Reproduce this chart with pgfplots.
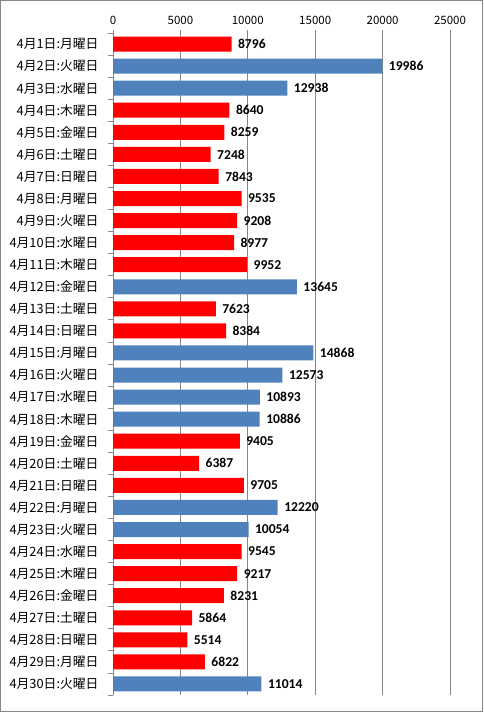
\documentclass[border=0pt]{standalone}
\usepackage{pgfplots}
\pgfplotsset{compat=1.18}
\usepackage{fontspec}
\setmainfont{Noto Sans CJK JP}
\newfontfamily\carl{Carlito}
\definecolor{barred}{RGB}{255,0,0}
\definecolor{barblue}{RGB}{79,129,189}
\definecolor{gridgray}{RGB}{134,134,134}
\begin{document}
\begin{tikzpicture}
\useasboundingbox (0,0) rectangle (483pt,-712pt);
\draw[gridgray, line width=0.8pt] (0.5pt,-0.5pt) rectangle (482.5pt,-711.5pt);
\begin{axis}[
  at={(113pt,-695pt)}, anchor=south west,
  scale only axis, width=337pt, height=662pt,
  xmin=0, xmax=25000, ymin=0.5, ymax=30.5, y dir=reverse,
  xbar, bar width=15pt, bar shift=0pt,
  axis line style={draw=none},
  xtick={0,5000,10000,15000,20000,25000},
  xtick pos=right, xticklabel pos=right,
  scaled x ticks=false,
  /pgf/number format/1000 sep={},
  /pgf/number format/assume math mode=true,
  xmajorgrids, grid style={gridgray, line width=0.8pt},
  tick align=outside, major tick length=0pt,
  xticklabel style={font=\fontsize{11.5}{12}\selectfont, yshift=5pt},
  ytick={1,...,30}, ytick pos=left,
  yticklabel style={font=\fontsize{12.8}{13}\selectfont, xshift=-11pt},
  yticklabels={4月1日:月曜日,4月2日:火曜日,4月3日:水曜日,4月4日:木曜日,4月5日:金曜日,4月6日:土曜日,4月7日:日曜日,4月8日:月曜日,4月9日:火曜日,4月10日:水曜日,4月11日:木曜日,4月12日:金曜日,4月13日:土曜日,4月14日:日曜日,4月15日:月曜日,4月16日:火曜日,4月17日:水曜日,4月18日:木曜日,4月19日:金曜日,4月20日:土曜日,4月21日:日曜日,4月22日:月曜日,4月23日:火曜日,4月24日:水曜日,4月25日:木曜日,4月26日:金曜日,4月27日:土曜日,4月28日:日曜日,4月29日:月曜日,4月30日:火曜日},
  point meta=x,
  nodes near coords,
  every node near coord/.append style={font=\carl\bfseries\fontsize{13.6}{14}\selectfont, anchor=west, xshift=3pt, black},
  clip=false,
]
\draw[gridgray, line width=0.8pt] (axis cs:0,0.5) -- (axis cs:0,30.5);
\pgfplotsinvokeforeach{0.5,1.5,2.5,3.5,4.5,5.5,6.5,7.5,8.5,9.5,10.5,11.5,12.5,13.5,14.5,15.5,16.5,17.5,18.5,19.5,20.5,21.5,22.5,23.5,24.5,25.5,26.5,27.5,28.5,29.5,30.5}{\draw[gridgray, line width=0.8pt] (axis cs:0,#1) -- ++(-5pt,0pt);}
\pgfplotsinvokeforeach{0,5000,10000,15000,20000,25000}{\draw[gridgray, line width=0.8pt] (axis cs:#1,0.5) -- ++(0pt,3pt);}
\addplot[fill=barred, draw=none] coordinates {
(8796,1) (8640,4) (8259,5) (7248,6) (7843,7) (9535,8) (9208,9) (8977,10) (9952,11)
(7623,13) (8384,14) (9405,19) (6387,20) (9705,21) (9545,24) (9217,25) (8231,26)
(5864,27) (5514,28) (6822,29)};
\addplot[fill=barblue, draw=none] coordinates {
(19986,2) (12938,3) (13645,12) (14868,15) (12573,16) (10893,17) (10886,18)
(12220,22) (10054,23) (11014,30)};
\end{axis}
\end{tikzpicture}
\end{document}
